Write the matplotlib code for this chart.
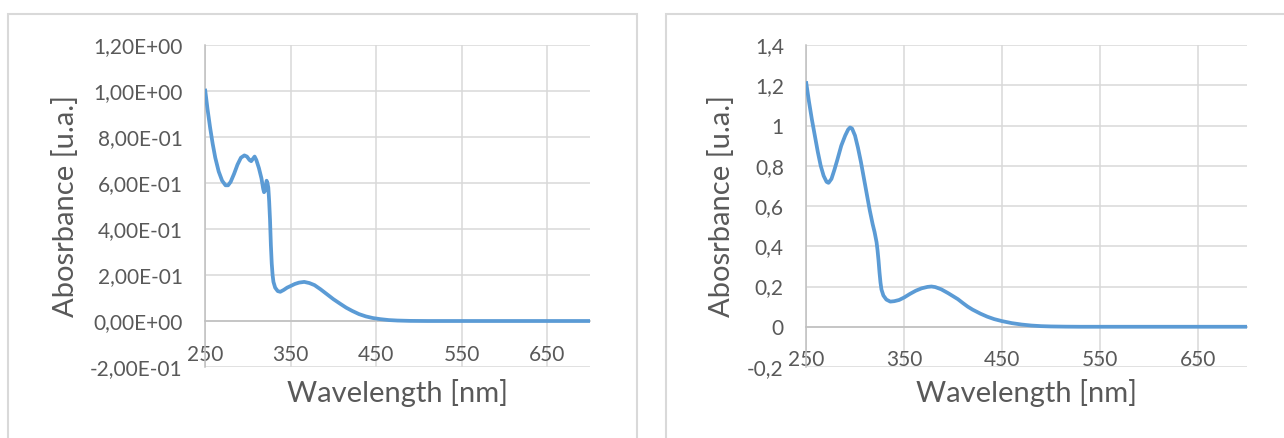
import matplotlib
matplotlib.use('Agg')
import matplotlib.pyplot as plt
from matplotlib.patches import Rectangle

# spectrum 1 (left)
wl_left = [250, 253, 256, 259, 262, 266, 270, 274, 277, 280, 284, 288, 292, 296, 299,
           302, 304, 306, 308, 310, 313, 316, 318, 319, 320, 321, 322, 323, 324, 325,
           326, 327, 328, 329, 330, 332, 335, 338, 342, 346, 350, 355, 360, 366, 372,
           378, 385, 392, 400, 408, 415, 422, 430, 438, 446, 455, 465, 475, 490, 510,
           550, 600, 650, 700]
abs_left = [1.01, 0.92, 0.84, 0.77, 0.71, 0.65, 0.61, 0.59, 0.59, 0.605, 0.64, 0.68, 0.71, 0.72, 0.715,
            0.70, 0.695, 0.705, 0.715, 0.70, 0.665, 0.62, 0.575, 0.56, 0.565, 0.585, 0.61, 0.60, 0.58, 0.52,
            0.44, 0.33, 0.25, 0.20, 0.17, 0.145, 0.13, 0.127, 0.135, 0.145, 0.152, 0.161, 0.167, 0.170, 0.165,
            0.156, 0.138, 0.118, 0.095, 0.075, 0.058, 0.044, 0.030, 0.020, 0.013, 0.008, 0.004, 0.002, 0.0005, 0.0,
            0.0, 0.0, 0.0, 0.0]

# spectrum 2 (right)
wl_right = [250, 253, 256, 259, 262, 265, 268, 271, 273, 276, 279, 282, 286, 290, 293,
            295, 297, 300, 303, 306, 309, 312, 315, 318, 320, 322, 323, 324, 325, 326,
            327, 329, 332, 336, 340, 345, 350, 356, 362, 368, 374, 378, 382, 388, 395,
            400, 405, 410, 415, 420, 428, 435, 442, 450, 460, 470, 480, 490, 500, 515,
            530, 600, 700]
abs_right = [1.22, 1.12, 1.03, 0.95, 0.87, 0.80, 0.75, 0.72, 0.715, 0.735, 0.78, 0.83, 0.90, 0.95, 0.98,
             0.99, 0.985, 0.95, 0.89, 0.82, 0.74, 0.66, 0.58, 0.51, 0.47, 0.42, 0.38, 0.33, 0.27, 0.22,
             0.185, 0.155, 0.135, 0.125, 0.127, 0.133, 0.145, 0.163, 0.179, 0.191, 0.198, 0.200, 0.197, 0.186, 0.167,
             0.152, 0.137, 0.118, 0.100, 0.085, 0.065, 0.050, 0.038, 0.028, 0.018, 0.011, 0.006, 0.003, 0.0015, 0.0005,
             0.0, 0.0, 0.0]

x_ticks = [250, 350, 450, 550, 650]
x_tick_labels = ['250', '350', '450', '550', '650']

y_ticks_left = [-0.2, 0.0, 0.2, 0.4, 0.6, 0.8, 1.0, 1.2]
y_tick_labels_left = ['-2,00E-01', '0,00E+00', '2,00E-01', '4,00E-01',
                      '6,00E-01', '8,00E-01', '1,00E+00', '1,20E+00']

y_ticks_right = [-0.2, 0.0, 0.2, 0.4, 0.6, 0.8, 1.0, 1.2, 1.4]
y_tick_labels_right = ['-0,2', '0', '0,2', '0,4', '0,6', '0,8', '1', '1,2', '1,4']

LINE_COLOR = '#5B9BD5'
TEXT_COLOR = '#595959'
GRID_COLOR = '#d9d9d9'
AXIS_COLOR = '#bfbfbf'

plt.rcParams['font.family'] = ['Lato', 'DejaVu Sans']

W, H = 1284, 438
fig = plt.figure(figsize=(W / 100, H / 100), dpi=100)


def px_box(x0, x1, ytop, ybot):
    return [x0 / W, 1 - ybot / H, (x1 - x0) / W, (ybot - ytop) / H]


# chart area borders
fig.patches.append(Rectangle((8 / W, -0.05), (637 - 8) / W, 1.05 - 14 / H,
                             transform=fig.transFigure, fill=False,
                             edgecolor=GRID_COLOR, lw=1.5))
fig.patches.append(Rectangle((666 / W, -0.05), 0.5, 1.05 - 14 / H,
                             transform=fig.transFigure, fill=False,
                             edgecolor=GRID_COLOR, lw=1.5))


def make_panel(box, wl, ab, yticks, ylabels, ylim, ylabel_x):
    ax = fig.add_axes(box)
    ax.plot(wl, ab, color=LINE_COLOR, lw=2.7, solid_capstyle='butt', zorder=3)
    ax.set_xlim(250, 700)
    ax.set_ylim(*ylim)
    ax.set_xticks(x_ticks)
    ax.set_xticklabels(x_tick_labels)
    ax.set_yticks(yticks)
    ax.set_yticklabels(ylabels)
    ax.grid(True, color=GRID_COLOR, lw=1.1, zorder=0)
    for s in ['top', 'right']:
        ax.spines[s].set_visible(False)
    ax.spines['left'].set_color(AXIS_COLOR)
    ax.spines['left'].set_linewidth(1.1)
    ax.spines['bottom'].set_position(('data', 0))
    ax.spines['bottom'].set_color(AXIS_COLOR)
    ax.spines['bottom'].set_linewidth(1.1)
    ax.tick_params(axis='both', length=0, labelsize=15, labelcolor=TEXT_COLOR)
    ax.tick_params(axis='x', pad=17)
    ax.tick_params(axis='y', pad=16)
    ax.set_xlabel('Wavelength [nm]', fontsize=21, color=TEXT_COLOR, va='center')
    ax.set_ylabel('Abosrbance [u.a.]', fontsize=21, color=TEXT_COLOR, va='center')
    ax.xaxis.set_label_coords(0.5, -26 / 322)
    ax.yaxis.set_label_coords(ylabel_x, 0.5)
    return ax


make_panel(px_box(205, 590, 45, 367), wl_left, abs_left,
           y_ticks_left, y_tick_labels_left, (-0.2, 1.2), (65 - 205) / 385)
make_panel(px_box(806, 1247, 45, 367), wl_right, abs_right,
           y_ticks_right, y_tick_labels_right, (-0.2, 1.4), (722 - 806) / 441)

fig.savefig('out.png', dpi=100)
